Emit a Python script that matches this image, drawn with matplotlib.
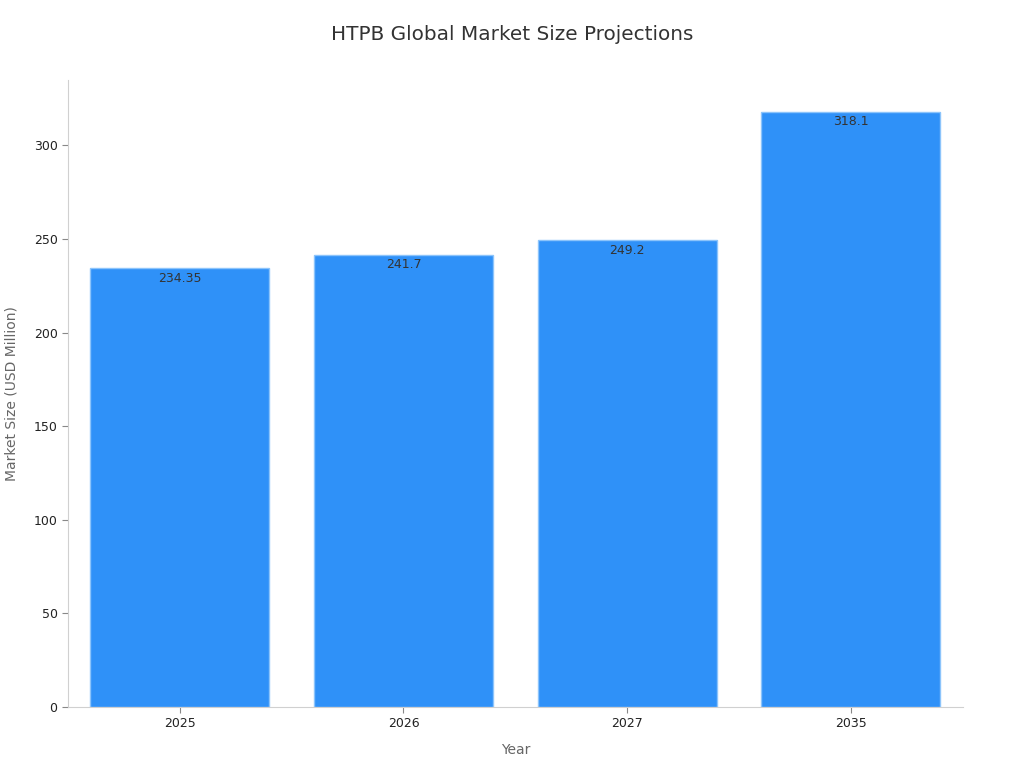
import matplotlib.pyplot as plt

years = ['2025', '2026', '2027', '2035']
market_size = [234.35, 241.7, 249.2, 318.1]
labels = ['234.35', '241.7', '249.2', '318.1']

fig = plt.figure(figsize=(10.24, 7.68), dpi=100)
ax = fig.add_axes([0.0664, 0.0794, 0.8736, 0.8166])

x = range(len(years))
bars = ax.bar(x, market_size, width=0.8, color='#2f91f8', edgecolor='#8cc4fb', linewidth=1)

for b, lab in zip(bars, labels):
    ax.text(b.get_x() + b.get_width() / 2, b.get_height() - 2, lab,
            ha='center', va='top', fontsize=9, color='#333333')

ax.set_xlim(-0.5, 3.5)
ax.set_ylim(0, 335)
ax.set_xticks(list(x))
ax.set_xticklabels(years)
ax.set_yticks([0, 50, 100, 150, 200, 250, 300])
ax.tick_params(axis='both', labelsize=9, colors='#222222', length=4)
ax.tick_params(axis='both', color='#888888')

for s in ['top', 'right']:
    ax.spines[s].set_visible(False)
for s in ['left', 'bottom']:
    ax.spines[s].set_color('#d0d0d0')

ax.set_xlabel('Year', fontsize=10, color='#666666', labelpad=9)
ax.set_ylabel('Market Size (USD Million)', fontsize=10, color='#666666', labelpad=11)
fig.suptitle('HTPB Global Market Size Projections', fontsize=14.4, color='#333333', y=0.968)

fig.savefig('out.png', dpi=100)
